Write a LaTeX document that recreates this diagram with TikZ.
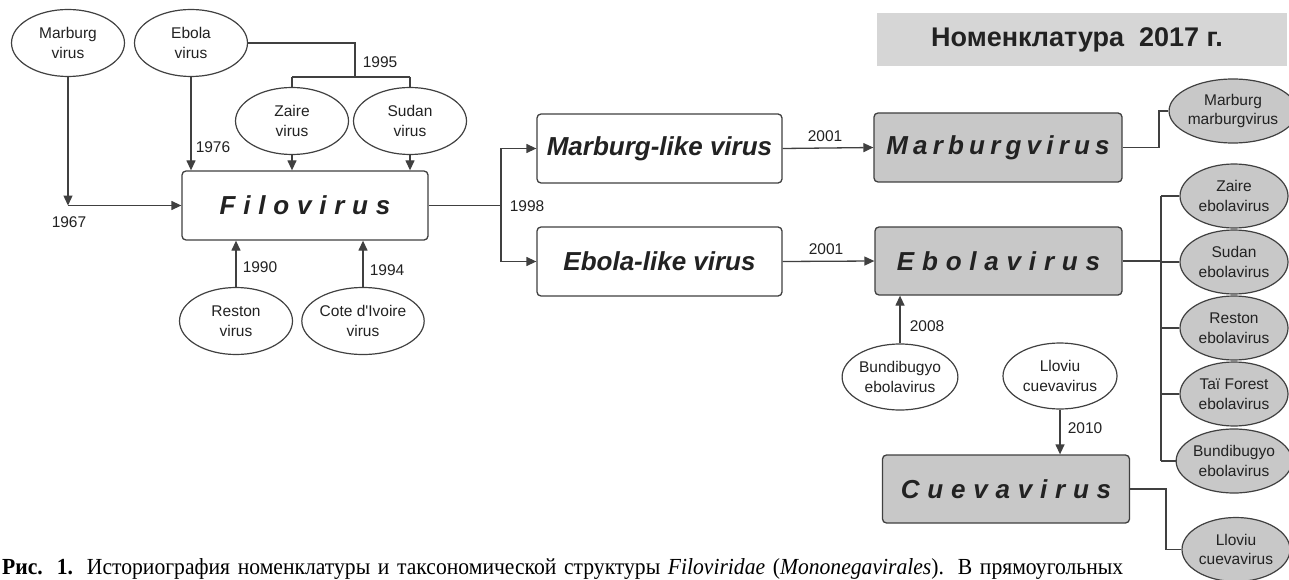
\documentclass[tikz,border=0pt]{standalone}
\usepackage{fontspec}
\setmainfont{Liberation Serif}
\newfontfamily\lsans{Liberation Sans}
\newfontfamily\spacedw[LetterSpace=30]{Liberation Sans}
\newfontfamily\spacedn[LetterSpace=20]{Liberation Sans}
\newfontfamily\capfont[FakeStretch=0.94]{Liberation Serif}
\usetikzlibrary{shapes.geometric,arrows.meta}
\definecolor{ln}{HTML}{404040}
\definecolor{tx}{HTML}{222222}
\definecolor{boxgray}{HTML}{C8C8C8}
\definecolor{titlegray}{HTML}{D6D6D6}
\begin{document}
\begin{tikzpicture}[x=1pt,y=-1pt,
  every node/.style={text=tx},
  sm/.style={font=\lsans\fontsize{15.5}{19.5}\selectfont},
  oval/.style={ellipse,draw=ln,line width=1.2pt,fill=white,minimum width=113pt,minimum height=67pt,inner sep=0pt,align=center,sm},
  goval/.style={oval,fill=boxgray,minimum width=108pt,minimum height=64pt},
  wbox/.style={rectangle,rounded corners=4pt,draw=ln,line width=1.3pt,fill=white,minimum width=246pt,minimum height=69pt,inner sep=0pt},
  gbox/.style={wbox,fill=boxgray},
  bigw/.style={font=\spacedw\bfseries\itshape\fontsize{26}{30}\selectfont},
  bign/.style={font=\spacedn\bfseries\itshape\fontsize{26}{30}\selectfont},
  bigp/.style={font=\lsans\bfseries\itshape\fontsize{26}{30}\selectfont},
  conn/.style={draw=ln,line width=1.3pt},
  arr/.style={conn,-{Triangle[length=10pt,width=9pt]}},
  yr/.style={sm,inner sep=0pt}
]
\useasboundingbox (0,0) rectangle (1289,580);
\clip (0,0) rectangle (1289,580);
\fill[white] (0,0) rectangle (1289,580);

% title
\node[fill=titlegray,minimum width=410pt,minimum height=53pt,inner sep=0pt,
      font=\lsans\bfseries\fontsize{27}{30}\selectfont] (title) at (1082,39.5) {\hspace*{-10pt}Номенклатура\ \ 2017 г.};

% left ellipses
\node[oval] (mv) at (68,43) {Marburg\\virus};
\node[oval] (ev) at (191,43) {Ebola\\virus};
\node[oval] (zv) at (292,121) {Zaire\\virus};
\node[oval] (sv) at (410,121) {Sudan\\virus};
\node[oval] (rv) at (236,321) {Reston\\virus};
\node[oval] (cv) at (363,321) {Cote d'Ivoire\\virus};
\node[oval,minimum width=114pt,minimum height=66pt] (bev) at (900,377) {Bundibugyo\\ebolavirus};
\node[oval,minimum width=114pt,minimum height=66pt] (lcv) at (1060,376) {Lloviu\\cuevavirus};

% boxes
\node[wbox,bigw] (filo) at (305,205.5) {Filovirus};
\node[wbox,minimum width=245pt,bigp] (mlv) at (659.5,148.5) {Marburg-like virus};
\node[wbox,minimum width=245pt,bigp] (elv) at (659.5,261.5) {Ebola-like virus};
\node[gbox,minimum width=248pt,bign] (marv) at (998,147.5) {Marburgvirus};
\node[gbox,minimum width=247pt,minimum height=68pt,bigw] (ebov) at (998.5,261) {Ebolavirus};
\node[gbox,minimum width=247pt,minimum height=68pt,bigw] (cuev) at (1006,489) {Cuevavirus};

% right gray ellipses
\node[goval,minimum width=110pt] (mm) at (1233,111) {Marburg\\marburgvirus};
\node[goval] (ze) at (1234,196) {Zaire\\ebolavirus};
\node[goval] (se) at (1234,262) {Sudan\\ebolavirus};
\node[goval] (re) at (1234,328) {Reston\\ebolavirus};
\node[goval] (tfe) at (1234,394) {Taï Forest\\ebolavirus};
\node[goval] (be) at (1234,461) {Bundibugyo\\ebolavirus};
\node[goval] (lc) at (1236,549.5) {Lloviu\\cuevavirus};

% coordinates
\coordinate (e95) at (355,77);
\coordinate (zl) at (292,77);
\coordinate (sl) at (410,77);
\coordinate (j67) at (68,205.5);
\coordinate (j98) at (501,205.5);
\coordinate (jm) at (1159,147.5);
\coordinate (je) at (1161,261);
\coordinate (jetop) at (1161,196);
\coordinate (jebot) at (1161,461);
\coordinate (jc) at (1166,489);

% connectors left
\draw[conn] (ev.east) -| (e95);
\draw[conn] (zl) -- (sl);
\draw[conn] (zl) -- (zv.north);
\draw[conn] (sl) -- (sv.north);
\draw[arr] (zv.south) -- (zv.south |- filo.north);
\draw[arr] (sv.south) -- (sv.south |- filo.north);
\draw[arr] (ev.south) -- (ev.south |- filo.north);
\draw[arr] (mv.south) -- (j67);
\draw[arr] (j67) -- (filo.west);
\draw[arr] (rv.north) -- (rv.north |- filo.south);
\draw[arr] (cv.north) -- (cv.north |- filo.south);

% 1998 split
\draw[conn] (filo.east) -- (j98);
\draw[arr] (j98) |- (mlv.west);
\draw[arr] (j98) |- (elv.west);

% 2001
\draw[arr] (mlv.east) -- (marv.west);
\draw[arr] (elv.east) -- (ebov.west);
\draw[arr] (bev.north) -- (bev.north |- ebov.south);
\draw[arr] (lcv.south) -- (lcv.south |- cuev.north);

% right branches
\draw[conn] (marv.east) -- (jm) |- (mm.west);
\draw[conn] (ebov.east) -- (je);
\draw[conn] (jetop) -- (jebot);
\draw[conn] (jetop) -- (ze.west);
\draw[conn] (je |- se.west) -- (se.west);
\draw[conn] (je |- re.west) -- (re.west);
\draw[conn] (je |- tfe.west) -- (tfe.west);
\draw[conn] (jebot) -- (be.west);
\draw[conn] (cuev.east) -- (jc) |- (lc.west);

% year labels
\node[yr] (y95) at (380,62) {1995};
\node[yr] (y76) at (213,147) {1976};
\node[yr] (y67) at (69,222) {1967};
\node[yr] (y90) at (260,267) {1990};
\node[yr] (y94) at (387,270) {1994};
\node[yr] (y98) at (527,206) {1998};
\node[yr] (y01a) at (825,136) {2001};
\node[yr] (y01b) at (826,249) {2001};
\node[yr] (y08) at (927,326) {2008};
\node[yr] (y10) at (1085,428) {2010};

% caption
\node[anchor=base west,inner sep=0pt,text=black,font=\capfont\fontsize{23}{27}\selectfont] (cap) at (2,574)
  {\hbox to 1121pt{\textbf{Рис. 1.} Историография номенклатуры и таксономической структуры \textit{Filoviridae} (\textit{Mononegavirales}). В прямоугольных}};
\end{tikzpicture}
\end{document}
